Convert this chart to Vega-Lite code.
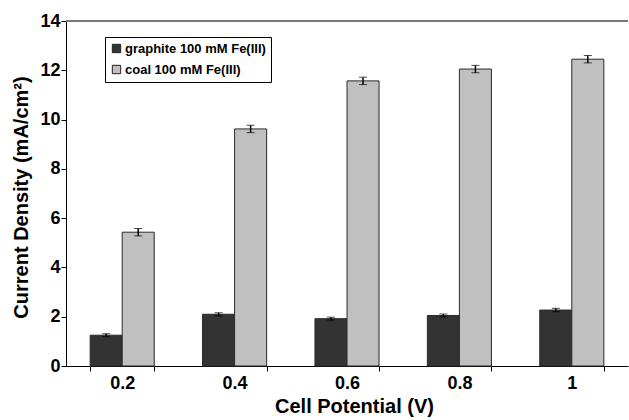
{
  "$schema": "https://vega.github.io/schema/vega-lite/v6.json",
  "autosize": "none",
  "width": 562,
  "height": 345,
  "padding": {"left": 66, "top": 21, "right": 1, "bottom": 54},
  "background": "white",
  "config": {
    "view": {"stroke": null},
    "font": "Liberation Sans",
    "axis": {"labelFont": "Liberation Sans", "titleFont": "Liberation Sans", "labelFontWeight": "bold", "titleFontWeight": "bold", "labelColor": "black", "titleColor": "black", "domainColor": "black", "tickColor": "black", "grid": false}
  },
  "data": {
    "values": [
      {"potential": "0.2", "series": "graphite 100 mM Fe(III)", "density": 1.25, "err": 0.06},
      {"potential": "0.4", "series": "graphite 100 mM Fe(III)", "density": 2.1, "err": 0.06},
      {"potential": "0.6", "series": "graphite 100 mM Fe(III)", "density": 1.92, "err": 0.06},
      {"potential": "0.8", "series": "graphite 100 mM Fe(III)", "density": 2.05, "err": 0.06},
      {"potential": "1", "series": "graphite 100 mM Fe(III)", "density": 2.27, "err": 0.07},
      {"potential": "0.2", "series": "coal 100 mM Fe(III)", "density": 5.43, "err": 0.15},
      {"potential": "0.4", "series": "coal 100 mM Fe(III)", "density": 9.62, "err": 0.15},
      {"potential": "0.6", "series": "coal 100 mM Fe(III)", "density": 11.57, "err": 0.15},
      {"potential": "0.8", "series": "coal 100 mM Fe(III)", "density": 12.05, "err": 0.15},
      {"potential": "1", "series": "coal 100 mM Fe(III)", "density": 12.45, "err": 0.15}
    ]
  },
  "encoding": {
    "x": {
      "field": "potential", "type": "nominal", "sort": ["0.2", "0.4", "0.6", "0.8", "1"],
      "scale": {"paddingInner": 0.43, "paddingOuter": 0.215},
      "axis": {"title": "Cell Potential (V)", "labelAngle": 0, "labelFontSize": 18, "titleFontSize": 20, "labelPadding": 3, "titlePadding": 4, "titleX": 288, "tickSize": 5, "tickBand": "extent"}
    },
    "xOffset": {"field": "series", "type": "nominal", "sort": ["graphite 100 mM Fe(III)", "coal 100 mM Fe(III)"]}
  },
  "layer": [
    {
      "mark": {"type": "rule", "color": "#777777", "strokeWidth": 1.5},
      "encoding": {"y": {"datum": 14, "type": "quantitative"}, "x": null, "xOffset": null}
    },
    {
      "mark": {"type": "bar", "stroke": "#2a2a2a", "strokeWidth": 1},
      "encoding": {
        "y": {
          "field": "density", "type": "quantitative",
          "scale": {"domain": [0, 14], "nice": false},
          "axis": {"title": "Current Density (mA/cm²)", "values": [0, 2, 4, 6, 8, 10, 12, 14], "labelFontSize": 18, "titleFontSize": 20, "labelPadding": 1, "titlePadding": 8, "titleY": 176, "tickSize": 5}
        },
        "fill": {
          "field": "series", "type": "nominal",
          "sort": ["graphite 100 mM Fe(III)", "coal 100 mM Fe(III)"],
          "scale": {"range": ["#333333", "#c0c0c0"]},
          "legend": {
            "title": null, "orient": "none", "legendX": 39, "legendY": 16,
            "direction": "vertical", "symbolType": "square", "symbolSize": 70,
            "symbolStrokeColor": "#222222", "symbolStrokeWidth": 1,
            "labelFont": "Liberation Sans", "labelFontWeight": "bold", "labelFontSize": 13, "labelColor": "black",
            "labelOffset": 2, "rowPadding": 7, "labelLimit": 300,
            "strokeColor": "black", "padding": 5, "fillColor": "white"
          }
        }
      }
    },
    {
      "mark": {"type": "errorbar", "ticks": {"size": 8, "color": "black", "strokeWidth": 1.5}, "rule": {"color": "black", "strokeWidth": 1.5}},
      "encoding": {
        "y": {"field": "density", "type": "quantitative", "title": "Current Density (mA/cm²)"},
        "yError": {"field": "err"}
      }
    }
  ]
}
